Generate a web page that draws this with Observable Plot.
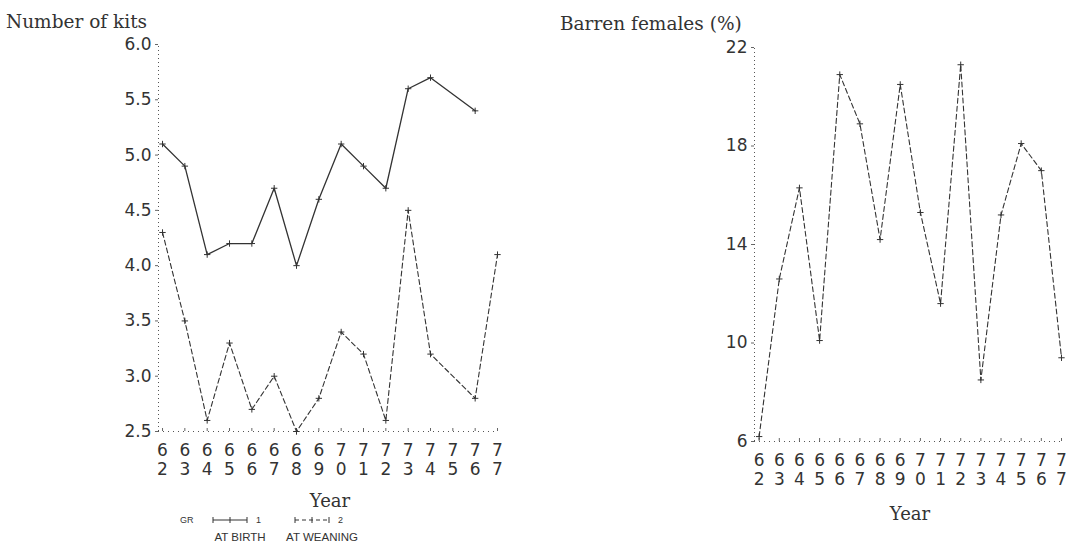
<!DOCTYPE html>
<html><head><meta charset="utf-8">
<script src="https://cdn.jsdelivr.net/npm/d3@7"></script>
<script src="https://cdn.jsdelivr.net/npm/@observablehq/plot@0.6"></script>
<style>
body{margin:0;background:#fff;width:1068px;height:543px;position:relative;overflow:hidden;font-family:"DejaVu Serif",serif;color:#333}
.abs{position:absolute;white-space:nowrap}
.title{font-size:18.5px;color:#333;line-height:1;transform:translateY(-50%)}
.xl{font-size:18px;color:#333;transform:translate(-50%,-50%)}
</style></head><body>
<div id="left" class="abs" style="left:0;top:0"></div>
<div id="right" class="abs" style="left:540px;top:0"></div>
<div class="abs title" style="left:6px;top:22px">Number of kits</div>
<div class="abs title" style="left:560px;top:24px">Barren females (%)</div>
<div class="abs xl" style="left:330px;top:500px">Year</div>
<div class="abs xl" style="left:910px;top:513px">Year</div>
<svg class="abs" style="left:0;top:0" width="540" height="543" id="legend"></svg>
<script>
const years = [62,63,64,65,66,67,68,69,70,71,72,73,74,75,76,77];
const kitsAtBirth = [5.1,4.9,4.1,4.2,4.2,4.7,4.0,4.6,5.1,4.9,4.7,5.6,5.7,null,5.4,null];
const kitsAtWeaning = [4.3,3.5,2.6,3.3,2.7,3.0,2.5,2.8,3.4,3.2,2.6,4.5,3.2,null,2.8,4.1];
const barrenFemales = [6.2,12.6,16.3,10.1,20.9,18.9,14.2,20.5,15.3,11.6,21.3,8.5,15.2,18.1,17.0,9.4];
const kitsTicks = [2.5,3.0,3.5,4.0,4.5,5.0,5.5,6.0];
const barrenTicks = [6,10,14,18,22];
const legendItems = [{code:"1", name:"AT BIRTH"},{code:"2", name:"AT WEANING"}];

const ink = "#333";
const toRows = vals => years.map((y,i)=>({year:y, v:vals[i]})).filter(d=>d.v!=null);
const yearFmt = d => { const s = String(d); return s[0] + "\n" + s[1]; };

function axes(xMin, xMax, yMin, yMax, yTicks, yFmt){
  return [
    Plot.ruleX([xMin], {y1:yMin, y2:yMax, stroke:"#555", strokeDasharray:"1,3", strokeWidth:1}),
    Plot.ruleY([yMin], {x1:xMin, x2:xMax, stroke:"#555", strokeDasharray:"1,4", strokeWidth:1}),
    Plot.axisY({ticks:yTicks, tickFormat:yFmt, tickSize:3, tickPadding:4, fontSize:17, fontFamily:"DejaVu Sans", stroke:"#666", fill:ink, label:null}),
    Plot.axisX({ticks:years, tickFormat:yearFmt, tickSize:-3, tickPadding:14, fontSize:17, fontFamily:"DejaVu Sans", lineHeight:1.12, stroke:"#666", fill:ink, label:null})
  ];
}

const xMinL = years[0] - 0.18;
const left = Plot.plot({
  width:527, height:543, marginLeft:158, marginRight:30, marginTop:44, marginBottom:112,
  x:{domain:[xMinL, years[years.length-1]]},
  y:{domain:[kitsTicks[0], kitsTicks[kitsTicks.length-1]]},
  style:{background:"transparent", color:ink},
  marks:[
    ...axes(xMinL, years[years.length-1], kitsTicks[0], kitsTicks[kitsTicks.length-1], kitsTicks, d3.format(".1f")),
    Plot.line(toRows(kitsAtBirth), {x:"year", y:"v", stroke:ink, strokeWidth:1.3}),
    Plot.dot(toRows(kitsAtBirth), {x:"year", y:"v", symbol:"plus", r:2.2, stroke:ink, strokeWidth:1}),
    Plot.line(toRows(kitsAtWeaning), {x:"year", y:"v", stroke:ink, strokeWidth:1.1, strokeDasharray:"5,3"}),
    Plot.dot(toRows(kitsAtWeaning), {x:"year", y:"v", symbol:"plus", r:2.2, stroke:ink, strokeWidth:1})
  ]
});
document.getElementById("left").appendChild(left);

const xMinR = years[0] - 0.23;
const right = Plot.plot({
  width:527, height:543, marginLeft:214, marginRight:6, marginTop:47, marginBottom:102,
  x:{domain:[xMinR, years[years.length-1]]},
  y:{domain:[barrenTicks[0], barrenTicks[barrenTicks.length-1]]},
  style:{background:"transparent", color:ink},
  marks:[
    ...axes(xMinR, years[years.length-1], barrenTicks[0], barrenTicks[barrenTicks.length-1], barrenTicks, d3.format("d")),
    Plot.line(toRows(barrenFemales), {x:"year", y:"v", stroke:ink, strokeWidth:1.1, strokeDasharray:"5,3"}),
    Plot.dot(toRows(barrenFemales), {x:"year", y:"v", symbol:"plus", r:2.2, stroke:ink, strokeWidth:1})
  ]
});
document.getElementById("right").appendChild(right);

// legend
const svg = d3.select("#legend");
svg.append("text").attr("x",180).attr("y",523).attr("font-size",9).attr("font-family","Liberation Sans").attr("fill",ink).text("GR");
const legX = [213, 295];
legendItems.forEach((it,i)=>{
  const x0 = legX[i], x1 = x0 + 34;
  svg.append("line").attr("x1",x0).attr("x2",x1).attr("y1",520).attr("y2",520).attr("stroke",ink).attr("stroke-width",1)
     .attr("stroke-dasharray", i===0 ? null : "4,3");
  [x0, (x0+x1)/2, x1].forEach(px=>{
    svg.append("line").attr("x1",px).attr("x2",px).attr("y1",517).attr("y2",523).attr("stroke",ink).attr("stroke-width",1);
  });
  svg.append("text").attr("x",x1+9).attr("y",523).attr("font-size",9).attr("font-family","Liberation Sans").attr("fill",ink).text(it.code);
  svg.append("text").attr("x",x0+27).attr("y",538).attr("dominant-baseline","middle").attr("text-anchor","middle").attr("font-size",11.5).attr("font-family","Liberation Sans").attr("fill",ink).text(it.name);
});
</script>
</body></html>
